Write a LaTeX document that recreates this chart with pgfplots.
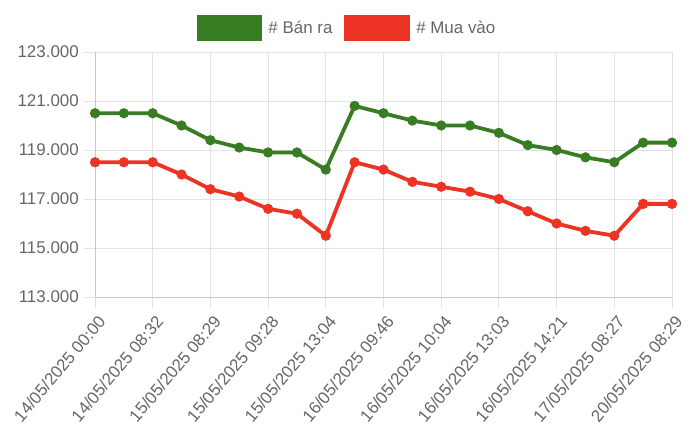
\documentclass[border=0pt]{standalone}
\usepackage{pgfplots}
\pgfplotsset{compat=1.18}
\usepackage{fontspec}
\setmainfont{Liberation Sans}
\definecolor{gban}{RGB}{56,124,36}
\definecolor{rmua}{RGB}{236,51,36}
\definecolor{txt}{RGB}{102,102,102}
\definecolor{gridc}{RGB}{226,226,226}
\definecolor{axc}{RGB}{200,200,200}
\begin{document}
\begin{tikzpicture}
\useasboundingbox (0bp,0bp) rectangle (700bp,446bp);
\begin{axis}[
  at={(95bp,149bp)}, anchor=south west,
  scale only axis, width=577bp, height=245bp,
  xmin=0, xmax=20, ymin=113, ymax=123,
  axis lines=left,
  axis line style={-, draw=axc, line width=0.9bp},
  grid=major,
  grid style={draw=gridc, line width=0.9bp},
  tick align=outside,
  major tick length=11bp,
  tick style={draw=gridc, line width=0.9bp},
  xtick={0,2,...,20},
  ytick={113,115,117,119,121,123},
  xticklabels={14/05/2025 00:00,14/05/2025 08:32,15/05/2025 08:29,15/05/2025 09:28,15/05/2025 13:04,16/05/2025 09:46,16/05/2025 10:04,16/05/2025 13:03,16/05/2025 14:21,17/05/2025 08:27,20/05/2025 08:29},
  yticklabels={113.000,115.000,117.000,119.000,121.000,123.000},
  ticklabel style={font=\fontsize{17}{20}\selectfont, text=txt},
  xticklabel style={xshift=7bp, yshift=-10bp, rotate=50, anchor=east, inner sep=0bp},
  yticklabel style={anchor=east, inner sep=0bp, xshift=-5bp},
  legend style={at={(0.435,1.098)}, anchor=center, draw=none, fill=none,
    font=\fontsize{17}{20}\selectfont, text=txt,
    legend columns=2,
    nodes={inner sep=0bp},
    /tikz/every odd column/.append style={column sep=6bp},
    /tikz/every even column/.append style={column sep=12bp}},
  legend image code/.code={\fill (0bp,-11bp) rectangle (62bp,11bp);},
]
\addplot[color=gban, line width=3.8bp, mark=*, mark size=4.6bp, mark options={solid, line width=1bp}]
coordinates {(0,120.5)(1,120.5)(2,120.5)(3,120.0)(4,119.4)(5,119.1)(6,118.9)(7,118.9)(8,118.2)(9,120.8)(10,120.5)(11,120.2)(12,120.0)(13,120.0)(14,119.7)(15,119.2)(16,119.0)(17,118.7)(18,118.5)(19,119.3)(20,119.3)};
\addlegendentry{\# Bán ra}
\addplot[color=rmua, line width=3.8bp, mark=*, mark size=4.6bp, mark options={solid, line width=1bp}]
coordinates {(0,118.5)(1,118.5)(2,118.5)(3,118.0)(4,117.4)(5,117.1)(6,116.6)(7,116.4)(8,115.5)(9,118.5)(10,118.2)(11,117.7)(12,117.5)(13,117.3)(14,117.0)(15,116.5)(16,116.0)(17,115.7)(18,115.5)(19,116.8)(20,116.8)};
\addlegendentry{\# Mua vào}
\end{axis}
\end{tikzpicture}
\end{document}
